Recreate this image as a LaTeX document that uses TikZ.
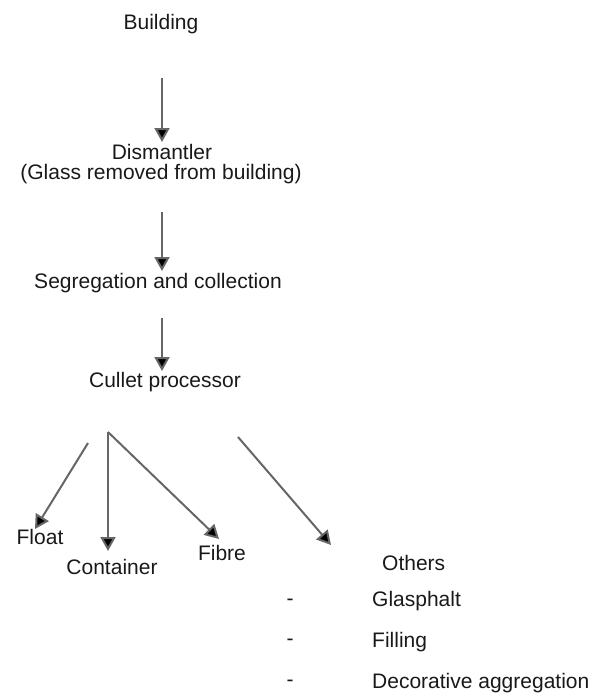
\documentclass[tikz,border=0pt]{standalone}
\usepackage{fontspec}
\setmainfont{Liberation Sans}
\usetikzlibrary{arrows.meta}
\begin{document}
\begin{tikzpicture}[x=1pt,y=-1pt,
  lbl/.style={inner sep=0pt, font=\fontsize{21}{25}\selectfont, text=black!90},
  flow/.style={draw=black!60, line width=2pt, -{Triangle[width=15pt,length=14pt,fill=black]}}]
\useasboundingbox (0,0) rectangle (597,696);
\node[lbl] (building) at (161,24) {Building};
\node[lbl] (dism) at (162,152) {Dismantler};
\node[lbl] (glass) at (161,174) {(Glass removed from building)};
\node[lbl] (seg) at (158,283) {Segregation and collection};
\node[lbl] (cullet) at (165,382) {Cullet processor};
\node[lbl] (float) at (40,537) {Float};
\node[lbl] (cont) at (112,567) {Container};
\node[lbl] (fibre) at (222,553) {Fibre};
\node[lbl,anchor=west] (others) at (382,563) {Others};
\node[lbl] (d1) at (290,602) {-};
\node[lbl] (d2) at (290,642) {-};
\node[lbl] (d3) at (290,683) {-};
\node[lbl,anchor=west] (glas) at (372,601) {Glasphalt};
\node[lbl,anchor=west] (fill) at (372,642) {Filling};
\node[lbl,anchor=west] (deco) at (372,683) {Decorative aggregation};
\coordinate (a1s) at (162,78);
\coordinate (a1e) at (162,142);
\coordinate (a2s) at (162,212);
\coordinate (a2e) at (162,271);
\coordinate (a3s) at (162,318);
\coordinate (a3e) at (162,371);
\coordinate (bf) at (88,443);
\coordinate (bc) at (108,432);
\coordinate (bo) at (238,437);
\coordinate (ef) at (35,529);
\coordinate (ec) at (108,551);
\coordinate (ei) at (219,539);
\coordinate (eo) at (331,545);
\draw[flow] (a1s) -- (a1e);
\draw[flow] (a2s) -- (a2e);
\draw[flow] (a3s) -- (a3e);
\draw[flow] (bf) -- (ef);
\draw[flow] (bc) -- (ec);
\draw[flow] (bc) -- (ei);
\draw[flow] (bo) -- (eo);
\end{tikzpicture}
\end{document}
